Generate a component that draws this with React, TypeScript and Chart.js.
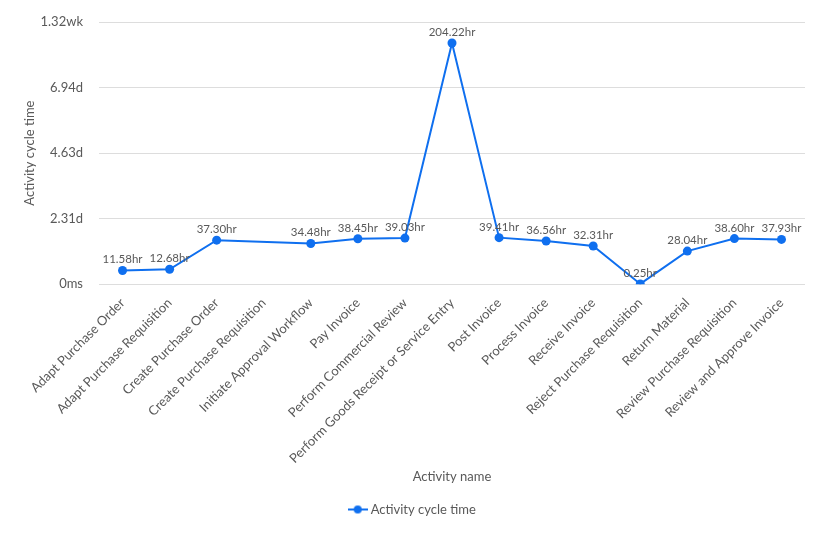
import React, { useEffect, useRef } from "react";
import { Chart, registerables } from "chart.js";

Chart.register(...registerables);

const categories = [
  "Adapt Purchase Order",
  "Adapt Purchase Requisition",
  "Create Purchase Order",
  "Create Purchase Requisition",
  "Initiate Approval Workflow",
  "Pay Invoice",
  "Perform Commercial Review",
  "Perform Goods Receipt or Service Entry",
  "Post Invoice",
  "Process Invoice",
  "Receive Invoice",
  "Reject Purchase Requisition",
  "Return Material",
  "Review Purchase Requisition",
  "Review and Approve Invoice",
];

// cycle time in hours (null = no value)
const cycleTimeHours: (number | null)[] = [
  11.58, 12.68, 37.3, null, 34.48, 38.45, 39.03, 204.22, 39.41, 36.56, 32.31, 0.25, 28.04, 38.6, 37.93,
];

// y-axis tick values in hours
const yTicksHours = [0, 55.5, 111, 166.5, 222];

const BLUE = "#0f6fef";
const TEXT = "#595959";

function formatDuration(h: number): string {
  if (h === 0) return "0ms";
  if (h >= 168) return (h / 168).toFixed(2) + "wk";
  if (h >= 24) return (h / 24).toFixed(2) + "d";
  return h.toFixed(2) + "hr";
}

const dataLabelPlugin = {
  id: "dataLabels",
  afterDatasetsDraw(chart: any) {
    const ctx = chart.ctx;
    const meta = chart.getDatasetMeta(0);
    const ds = chart.data.datasets[0];
    ctx.save();
    ctx.font = "11.5px Lato";
    ctx.fillStyle = TEXT;
    ctx.textAlign = "center";
    ctx.textBaseline = "bottom";
    meta.data.forEach((pt: any, i: number) => {
      const v = ds.data[i];
      if (v === null || v === undefined) return;
      ctx.fillText(Number(v).toFixed(2) + "hr", pt.x, pt.y - 5);
    });
    ctx.restore();
  },
};

function makeLegendIcon(): HTMLCanvasElement {
  const c = document.createElement("canvas");
  c.width = 20;
  c.height = 10;
  const g = c.getContext("2d")!;
  g.strokeStyle = BLUE;
  g.lineWidth = 2;
  g.beginPath();
  g.moveTo(0, 5);
  g.lineTo(20, 5);
  g.stroke();
  g.fillStyle = BLUE;
  g.beginPath();
  g.arc(10, 5, 4, 0, Math.PI * 2);
  g.fill();
  return c;
}

export default function App() {
  const ref = useRef<HTMLCanvasElement | null>(null);
  useEffect(() => {
    if (!ref.current) return;
    const icon = makeLegendIcon();
    const chart = new Chart(ref.current, {
      type: "line",
      data: {
        labels: categories,
        datasets: [
          {
            label: "Activity cycle time",
            data: cycleTimeHours,
            borderColor: BLUE,
            backgroundColor: BLUE,
            borderWidth: 2,
            pointRadius: 4.5,
            pointHoverRadius: 4.5,
            pointBackgroundColor: BLUE,
            pointBorderWidth: 0,
            spanGaps: true,
            tension: 0,
          },
        ],
      },
      options: {
        animation: false,
        responsive: true,
        maintainAspectRatio: false,
        layout: { padding: { top: 14, right: 12, left: 14, bottom: 1 } },
        scales: {
          x: {
            offset: true,
            grid: { display: false },
            border: { display: false },
            ticks: {
              color: TEXT,
              font: { family: "Lato", size: 13 },
              maxRotation: 45,
              minRotation: 45,
              autoSkip: false,
            },
            title: {
              display: true,
              text: "Activity name",
              color: TEXT,
              font: { family: "Lato", size: 13 },
              padding: { top: 0, bottom: 0 },
            },
          },
          y: {
            min: 0,
            max: 222,
            afterBuildTicks(scale: any) {
              scale.ticks = yTicksHours.map((v) => ({ value: v }));
            },
            afterFit(scale: any) {
              scale.width = 77;
            },
            grid: {
              color: "#dddddd",
              drawTicks: true,
              tickLength: 15,
              tickColor: "rgba(0,0,0,0)",
            },
            border: { display: false },
            ticks: {
              color: TEXT,
              font: { family: "Lato", size: 13 },
              padding: 1,
              callback: (v: any) => formatDuration(Number(v)),
            },
            title: {
              display: true,
              text: "Activity cycle time",
              color: TEXT,
              font: { family: "Lato", size: 13 },
              padding: { top: 0, bottom: 0 },
            },
          },
        },
        plugins: {
          legend: {
            position: "bottom",
            labels: {
              usePointStyle: true,
              pointStyle: icon as any,
              color: TEXT,
              font: { family: "Lato", size: 13 },
              padding: 18,
              generateLabels: () => [
                {
                  text: "Activity cycle time",
                  fillStyle: BLUE,
                  strokeStyle: BLUE,
                  pointStyle: icon,
                  datasetIndex: 0,
                  hidden: false,
                  fontColor: TEXT,
                },
              ],
            },
          },
          tooltip: { enabled: false },
        },
      },
      plugins: [dataLabelPlugin],
    });
    return () => chart.destroy();
  }, []);
  return (
    <div style={{ width: 809, height: 519, position: "relative" }}>
      <canvas ref={ref} />
    </div>
  );
}
